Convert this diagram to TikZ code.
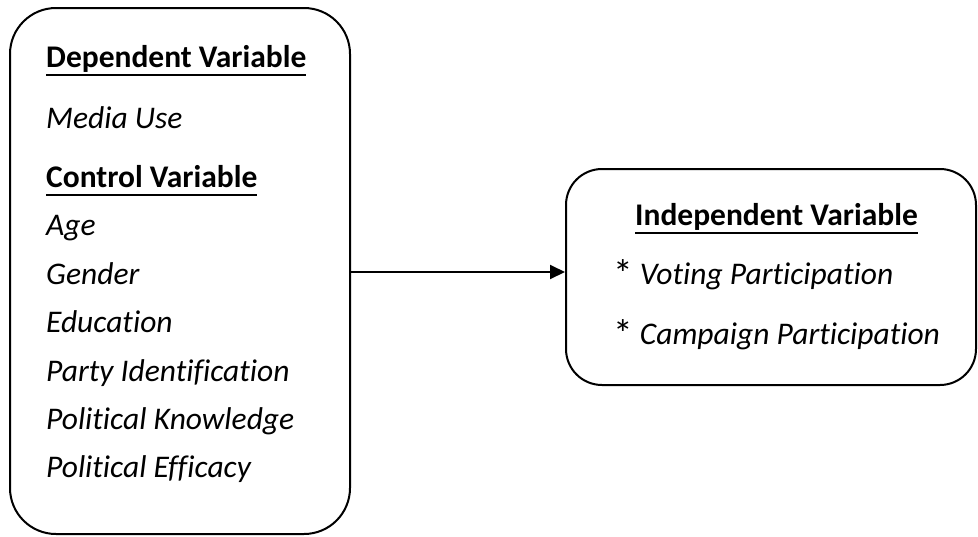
\documentclass[tikz,border=0pt]{standalone}
\usepackage{fontspec}
\setmainfont{Carlito}[Ligatures=NoCommon]
\usetikzlibrary{arrows.meta}
\newcommand\headline[1]{\setbox0\hbox{\bfseries #1}\rlap{\rule[-9pt]{\wd0}{2.4pt}}\box0}
\newcommand\bullitem{\raisebox{-3pt}{\scalebox{1.25}{*}}}
\begin{document}
\begin{tikzpicture}[x=1pt,y=-1pt,
  box/.style={draw=black, line width=2pt, fill=white, inner sep=0pt},
  label/.style={anchor=base west, inner sep=0pt, font=\fontsize{31.5}{34}\selectfont},
  item/.style={label, font=\fontsize{31.5}{34}\selectfont\itshape},
  link/.style={line width=2pt, -{Triangle[length=15pt,width=14pt]}}]
  \useasboundingbox (0,0) rectangle (978,536);
  % outer frames
  \node[box, rounded corners=46pt, minimum width=340pt, minimum height=526pt] (dep) at (180,271) {};
  \node[box, rounded corners=36pt, minimum width=410pt, minimum height=216pt] (ind) at (771,277) {};
  % left frame contents
  \node[label] (h1) at (46,67) {\headline{Dependent Variable}};
  \node[item] (m1) at (46,128) {Media Use};
  \node[label] (h2) at (46,187) {\headline{Control Variable}};
  \node[item] (c1) at (46,235) {Age};
  \node[item] (c2) at (46,284) {Gender};
  \node[item] (c3) at (46,332) {Education};
  \node[item] (c4) at (46,381) {Party Identification};
  \node[item] (c5) at (46,429) {Political Knowledge};
  \node[item] (c6) at (46,477) {Political Efficacy};
  % right frame contents
  \node[label] (h3) at (635,225) {\headline{Independent Variable}};
  \node[label] (i1) at (613,284) {\bullitem{} \itshape Voting Participation};
  \node[label] (i2) at (613,344) {\bullitem{} \itshape Campaign Participation};
  % connector
  \draw[link] (dep.east |- 0,272) -- (ind.west |- 0,272);
\end{tikzpicture}
\end{document}
